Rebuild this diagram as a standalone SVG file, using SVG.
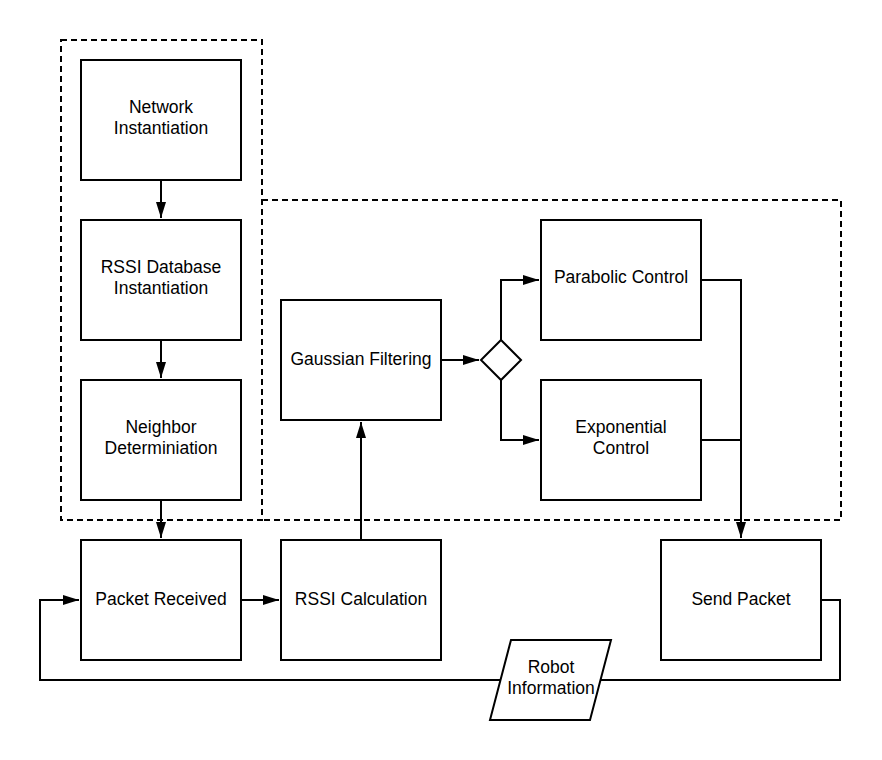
<svg xmlns="http://www.w3.org/2000/svg" width="882" height="760" viewBox="0 0 882 760">
<style>
.box{fill:#fff;stroke:#000;stroke-width:2}
.grp{fill:none;stroke:#000;stroke-width:2;stroke-dasharray:6 4}
.ln{fill:none;stroke:#000;stroke-width:2}
text{font-family:"Liberation Sans",Arial,sans-serif;font-size:17.5px;fill:#000;text-anchor:middle}
</style>
<defs>
<marker id="ah" markerUnits="userSpaceOnUse" markerWidth="18" markerHeight="12" refX="16" refY="5" orient="auto">
<path d="M0,0 L16,5 L0,10 z" fill="#000"/>
</marker>
</defs>
<g id="groups">
<path class="grp" d="M61,40 H262 V520 H61 Z"/>
<path class="grp" d="M262,200 H841 V520 H262"/>
</g>
<g id="connectors">
<path class="ln" d="M161,180 V218" marker-end="url(#ah)"/>
<path class="ln" d="M161,340 V378" marker-end="url(#ah)"/>
<path class="ln" d="M161,500 V538" marker-end="url(#ah)"/>
<path class="ln" d="M241,600 H279" marker-end="url(#ah)"/>
<path class="ln" d="M361,540 V422" marker-end="url(#ah)"/>
<path class="ln" d="M441,360 H479" marker-end="url(#ah)"/>
<path class="ln" d="M501,340 V280 H539" marker-end="url(#ah)"/>
<path class="ln" d="M501,380 V440 H539" marker-end="url(#ah)"/>
<path class="ln" d="M701,280 H741 V538" marker-end="url(#ah)"/>
<path class="ln" d="M701,440 H741"/>
<path class="ln" d="M821,600 H840 V680 H40 V600 H79" marker-end="url(#ah)"/>
</g>
<g id="network"><rect class="box" x="81" y="60" width="160" height="120"/><text x="161" y="113">Network</text><text x="161" y="134">Instantiation</text></g>
<g id="rssidb"><rect class="box" x="81" y="220" width="160" height="120"/><text x="161" y="273">RSSI Database</text><text x="161" y="294">Instantiation</text></g>
<g id="neighbor"><rect class="box" x="81" y="380" width="160" height="120"/><text x="161" y="433">Neighbor</text><text x="161" y="454">Determiniation</text></g>
<g id="packet"><rect class="box" x="81" y="540" width="160" height="120"/><text x="161" y="605">Packet Received</text></g>
<g id="rssicalc"><rect class="box" x="281" y="540" width="160" height="120"/><text x="361" y="605">RSSI Calculation</text></g>
<g id="gaussian"><rect class="box" x="281" y="300" width="160" height="120"/><text x="361" y="365">Gaussian Filtering</text></g>
<g id="decision"><path class="box" d="M501,340 L521,360 L501,380 L481,360 Z"/></g>
<g id="parabolic"><rect class="box" x="541" y="220" width="160" height="120"/><text x="621" y="283">Parabolic Control</text></g>
<g id="exponential"><rect class="box" x="541" y="380" width="160" height="120"/><text x="621" y="433">Exponential</text><text x="621" y="454">Control</text></g>
<g id="send"><rect class="box" x="661" y="540" width="160" height="120"/><text x="741" y="605">Send Packet</text></g>
<g id="robot"><path class="box" d="M511,640 H611 L590,720 H490 Z"/><text x="551" y="673">Robot</text><text x="551" y="694">Information</text></g>
</svg>
